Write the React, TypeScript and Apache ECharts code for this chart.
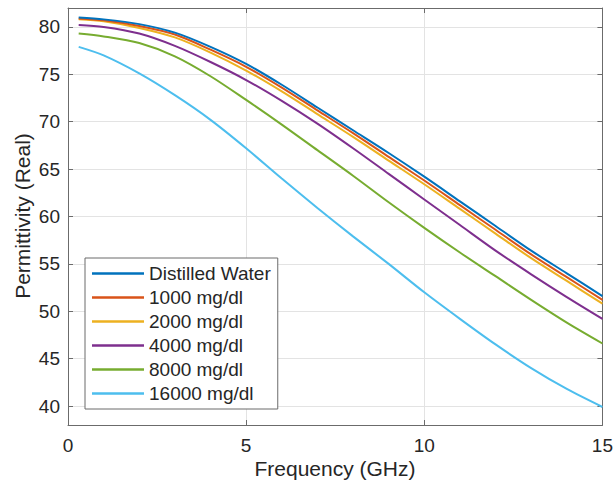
import React, { useEffect, useRef } from "react";
import * as echarts from "echarts";

const freq = [0.3, 1, 2, 3, 4, 5, 6, 7, 8, 9, 10, 11, 12, 13, 14, 15];
const water = [81.0, 80.8, 80.3, 79.4, 77.9, 76.1, 73.9, 71.5, 69.1, 66.7, 64.2, 61.6, 59.0, 56.4, 54.0, 51.6];
const g1000 = [80.9, 80.7, 80.1, 79.2, 77.6, 75.8, 73.6, 71.2, 68.8, 66.3, 63.8, 61.2, 58.6, 56.0, 53.6, 51.2];
const g2000 = [80.8, 80.6, 79.9, 78.9, 77.3, 75.4, 73.2, 70.8, 68.4, 65.9, 63.4, 60.8, 58.2, 55.6, 53.2, 50.8];
const g4000 = [80.2, 80.0, 79.3, 78.0, 76.3, 74.4, 72.2, 69.8, 67.2, 64.5, 61.8, 59.1, 56.4, 53.9, 51.5, 49.2];
const g8000 = [79.3, 79.0, 78.3, 76.9, 74.8, 72.3, 69.7, 67.0, 64.3, 61.5, 58.8, 56.2, 53.7, 51.2, 48.8, 46.6];
const g16000 = [77.9, 77.0, 75.1, 72.8, 70.2, 67.2, 64.0, 60.9, 57.9, 55.0, 52.0, 49.2, 46.5, 44.0, 41.8, 39.9];

const seriesNames = ["Distilled Water", "1000 mg/dl", "2000 mg/dl", "4000 mg/dl", "8000 mg/dl", "16000 mg/dl"];
const seriesValues = [water, g1000, g2000, g4000, g8000, g16000];
const colors = ["#0072BD", "#D95319", "#EDB120", "#7E2F8E", "#77AC30", "#4DBEEE"];

const xTitle = "Frequency (GHz)";
const yTitle = "Permittivity (Real)";

const FONT = "'Liberation Sans', Arial, Helvetica, sans-serif";
const TEXT = "#262626";
const AXIS = "#6b6b6b";
const GRIDC = "#e3e3e3";

export default function App() {
  const ref = useRef<HTMLDivElement>(null);
  useEffect(() => {
    if (!ref.current) return;
    const chart = echarts.init(ref.current, undefined, { renderer: "svg" });
    const baseX = {
      type: "value" as const,
      min: 0,
      max: 15,
      interval: 5,
    };
    const baseY = {
      type: "value" as const,
      min: 38,
      max: 82,
      splitNumber: 9,
    };
    const fmtY = (v: number) => (v % 5 === 0 ? String(v) : "");
    chart.setOption({
      animation: false,
      backgroundColor: "#fff",
      textStyle: { fontFamily: FONT },
      grid: { left: 68, right: 13, top: 8, bottom: 66, containLabel: false },
      xAxis: [
        {
          ...baseX,
          position: "bottom",
          axisLine: { show: true, onZero: false, lineStyle: { color: AXIS, width: 1 } },
          axisTick: { show: true, inside: true, length: 5, lineStyle: { color: AXIS } },
          axisLabel: { color: TEXT, fontSize: 19, margin: 11, fontFamily: FONT },
          splitLine: { show: true, lineStyle: { color: GRIDC, width: 1 } },
        },
        {
          ...baseX,
          position: "top",
          axisLine: { show: true, onZero: false, lineStyle: { color: AXIS, width: 1 } },
          axisTick: { show: true, inside: true, length: 5, lineStyle: { color: AXIS } },
          axisLabel: { show: false },
          splitLine: { show: false },
        },
      ],
      yAxis: [
        {
          ...baseY,
          position: "left",
          axisLine: { show: true, onZero: false, lineStyle: { color: AXIS, width: 1 } },
          axisTick: { show: true, inside: true, length: 5, lineStyle: { color: AXIS } },
          axisLabel: {
            color: TEXT,
            fontSize: 19,
            margin: 8,
            fontFamily: FONT,
            formatter: fmtY,
            showMinLabel: false,
            showMaxLabel: false,
          },
          splitLine: { show: true, lineStyle: { color: GRIDC, width: 1 } },
        },
        {
          ...baseY,
          position: "right",
          axisLine: { show: true, onZero: false, lineStyle: { color: AXIS, width: 1 } },
          axisTick: { show: true, inside: true, length: 5, lineStyle: { color: AXIS } },
          axisLabel: { show: false },
          splitLine: { show: false },
        },
      ],
      legend: {
        left: 85,
        top: 258,
        orient: "vertical",
        data: seriesNames.map((n) => ({ name: n, icon: "rect" })),
        backgroundColor: "#fff",
        borderColor: AXIS,
        borderWidth: 1,
        borderRadius: 0,
        padding: [6, 7, 6, 7],
        itemGap: 5,
        itemWidth: 52,
        itemHeight: 2.5,
        textStyle: { color: TEXT, fontSize: 19, fontFamily: FONT, lineHeight: 19, height: 19 },
      },
      graphic: [
        {
          type: "text",
          x: 335,
          y: 468,
          style: {
            text: xTitle,
            fill: TEXT,
            font: `21px ${FONT}`,
            textAlign: "center",
            textVerticalAlign: "middle",
          },
        },
        {
          type: "text",
          x: 22,
          y: 216,
          rotation: Math.PI / 2,
          style: {
            text: yTitle,
            fill: TEXT,
            font: `21px ${FONT}`,
            textAlign: "center",
            textVerticalAlign: "middle",
          },
        },
      ],
      series: seriesNames.map((name, i) => ({
        name,
        type: "line",
        xAxisIndex: 0,
        yAxisIndex: 0,
        symbol: "none",
        showSymbol: false,
        smooth: 0.3,
        color: colors[i],
        itemStyle: { color: colors[i] },
        lineStyle: { color: colors[i], width: 2 },
        data: freq.map((f, j) => [f, seriesValues[i][j]]),
        z: 2 + (seriesNames.length - i),
      })),
    });
    return () => chart.dispose();
  }, []);
  return (
    <div
      ref={ref}
      style={{ position: "fixed", left: 0, top: 0, width: 616, height: 491 }}
    />
  );
}
